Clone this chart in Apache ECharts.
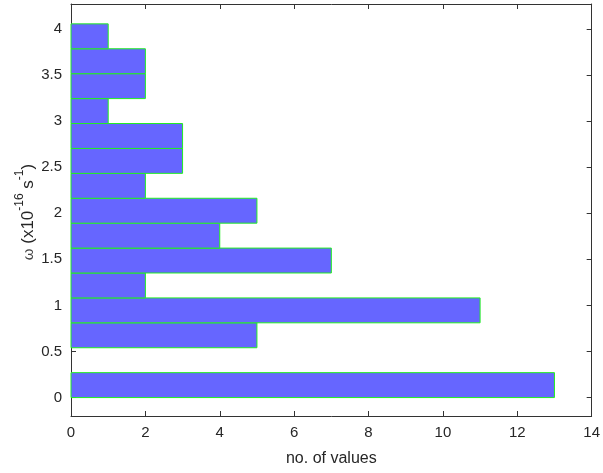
<!DOCTYPE html>
<html><head><meta charset="utf-8">
<script src="https://cdn.jsdelivr.net/npm/echarts@6/dist/echarts.min.js"></script>
<style>html,body{margin:0;padding:0;background:#fff}#c{width:603px;height:473px}</style>
</head><body><div id="c"></div>
<script>
// Histogram data (bins along omega axis)
var binStart = 0;
var binWidth = 0.2703;
var counts = [13, 0, 5, 11, 2, 7, 4, 5, 2, 3, 3, 1, 2, 2, 1];
var xTicks = [0, 2, 4, 6, 8, 10, 12, 14];
var yTicks = [0, 0.5, 1, 1.5, 2, 2.5, 3, 3.5, 4];

var data = counts.map(function (c, i) {
  return [binStart + i * binWidth, binStart + (i + 1) * binWidth, c];
});

var chart = echarts.init(document.getElementById('c'), null, {renderer: 'canvas'});
var font = 'Liberation Sans, Arial, sans-serif';
var axisCol = '#333';
function xAx(pos, showLabel) {
  return {
    type: 'value', position: pos, min: 0, max: 14, interval: 2,
    axisLine: {show: true, onZero: false, lineStyle: {color: axisCol, width: 1}},
    axisTick: {show: true, inside: true, length: 5, lineStyle: {color: axisCol}},
    axisLabel: {show: showLabel, color: '#262626', fontSize: 15, fontFamily: font, margin: 9},
    splitLine: {show: false},
    name: showLabel ? 'no. of values' : '', nameLocation: 'middle', nameGap: 35,
    nameTextStyle: {color: '#262626', fontSize: 16, fontFamily: font}
  };
}
function yAx(pos, showLabel) {
  return {
    type: 'value', position: pos, min: -0.2, max: 4.27,
    axisLine: {show: true, onZero: false, lineStyle: {color: axisCol, width: 1}},
    axisTick: {show: true, inside: true, length: 5, customValues: yTicks, lineStyle: {color: axisCol}},
    axisLabel: {show: showLabel, customValues: yTicks, color: '#262626', fontSize: 15, fontFamily: font, margin: 9},
    splitLine: {show: false}
  };
}
chart.setOption({
  animation: false,
  grid: {left: 71, right: 11, top: 4, bottom: 57, containLabel: false},
  xAxis: [xAx('bottom', true), xAx('top', false)],
  yAxis: [yAx('left', true), yAx('right', false)],
  graphic: [{
    type: 'text', rotation: Math.PI / 2,
    x: 25, y: 212,
    style: {
      text: '{w|ω} {b|(x10}{s|-16}{b| s}{s|-1}{b|)}',
      font: '17px ' + font, fill: '#262626',
      align: 'center', verticalAlign: 'middle',
      rich: {
        w: {fontSize: 15, fontFamily: font, fill: '#444', verticalAlign: 'bottom', lineHeight: 23},
        b: {fontSize: 17, fontFamily: font, fill: '#262626', verticalAlign: 'bottom', lineHeight: 23},
        s: {fontSize: 12, fontFamily: font, fill: '#262626', verticalAlign: 'top', lineHeight: 23}
      }
    }
  }],
  series: [{
    type: 'custom',
    xAxisIndex: 0, yAxisIndex: 0,
    data: data,
    renderItem: function (params, api) {
      var c = api.value(2);
      if (!c) return null;
      var p0 = api.coord([0, api.value(0)]);
      var p1 = api.coord([c, api.value(1)]);
      return {
        type: 'rect',
        shape: {x: p0[0], y: p1[1], width: p1[0] - p0[0], height: p0[1] - p1[1]},
        style: {fill: '#6666ff', stroke: '#22ee22', lineWidth: 1}
      };
    }
  }]
});
</script></body></html>
